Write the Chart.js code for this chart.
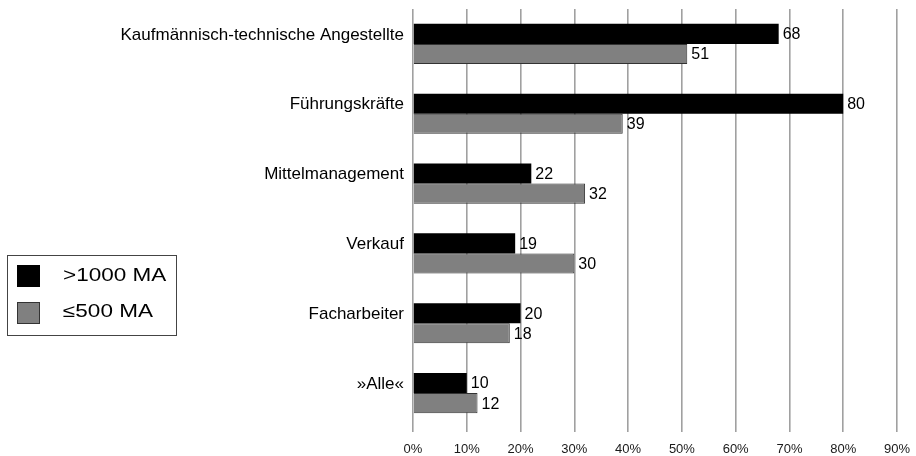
<!DOCTYPE html>
<html>
<head>
<meta charset="utf-8">
<script src="https://cdn.jsdelivr.net/npm/chart.js@4.4.1/dist/chart.umd.min.js"></script>
<style>
html,body{margin:0;padding:0;background:#fff;}
#wrap{position:relative;width:916px;height:456px;}
</style>
</head>
<body>
<div id="wrap"><canvas id="c" width="916" height="456"></canvas></div>
<script>
const categories = ["Kaufmännisch-technische Angestellte", "Führungskräfte", "Mittelmanagement", "Verkauf", "Facharbeiter", "»Alle«"];
const seriesNames = [">1000 MA", "≤500 MA"];
const large = [68, 80, 22, 19, 20, 10];
const small = [51, 39, 32, 30, 18, 12];
const xTicks = [0, 10, 20, 30, 40, 50, 60, 70, 80, 90];

const FONT = "'Liberation Sans', Arial, Helvetica, sans-serif";

const valueLabels = {
  id: 'valueLabels',
  afterDatasetsDraw(chart) {
    const ctx = chart.ctx;
    ctx.save();
    ctx.fillStyle = '#000';
    ctx.font = '16px ' + FONT;
    ctx.textAlign = 'left';
    ctx.textBaseline = 'middle';
    chart.data.datasets.forEach((ds, i) => {
      const meta = chart.getDatasetMeta(i);
      meta.data.forEach((bar, j) => {
        ctx.fillText(String(ds.data[j]), bar.x + 4, bar.y + 1);
      });
    });
    ctx.restore();
  }
};

const boxLegend = {
  id: 'boxLegend',
  afterDraw(chart) {
    const ctx = chart.ctx;
    ctx.save();
    ctx.strokeStyle = '#444';
    ctx.lineWidth = 1;
    ctx.strokeRect(7.5, 255.5, 169, 80);
    const items = [
      {fill: '#000', stroke: '#000', y: 265, ty: 276},
      {fill: '#808080', stroke: '#333', y: 302, ty: 312}
    ];
    items.forEach((it, i) => {
      ctx.fillStyle = it.fill;
      ctx.fillRect(17, it.y, 23, 22);
      ctx.strokeStyle = it.stroke;
      ctx.strokeRect(17.5, it.y + 0.5, 22, 21);
      ctx.save();
      ctx.translate(63, it.ty);
      ctx.scale(1.25, 1);
      ctx.fillStyle = '#000';
      ctx.font = '18px ' + FONT;
      ctx.textBaseline = 'middle';
      ctx.textAlign = 'left';
      ctx.fillText(seriesNames[i], 0, 0);
      ctx.restore();
    });
    ctx.restore();
  }
};

new Chart(document.getElementById('c'), {
  type: 'bar',
  data: {
    labels: categories,
    datasets: [
      {label: seriesNames[0], data: large, backgroundColor: '#000', borderColor: '#000', borderWidth: 0,
       categoryPercentage: 0.575, barPercentage: 1.0},
      {label: seriesNames[1], data: small, backgroundColor: '#808080', borderColor: '#333', borderWidth: 1,
       categoryPercentage: 0.575, barPercentage: 1.0}
    ]
  },
  options: {
    indexAxis: 'y',
    responsive: false,
    animation: false,
    layout: {padding: {top: 9, right: 19, bottom: 0, left: 0}},
    plugins: {legend: {display: false}, tooltip: {enabled: false}},
    scales: {
      x: {
        type: 'linear',
        min: 0, max: 90,
        afterBuildTicks(s) { s.ticks = xTicks.map(v => ({value: v})); },
        ticks: {
          callback: v => v + '%',
          font: {size: 13, family: FONT},
          color: '#1a1a1a',
          padding: 10,
          maxRotation: 0
        },
        grid: {color: '#a0a0a0', lineWidth: 1.6, tickLength: 4, drawTicks: true},
        border: {display: false},
        afterFit(s) { s.height = 28; s.paddingLeft = 0; s.paddingRight = 0; }
      },
      y: {
        type: 'category',
        grid: {display: false, drawTicks: false},
        border: {display: false},
        ticks: {
          font: {size: 17, family: FONT},
          color: '#000',
          padding: 9,
          labelOffset: -9
        },
        afterFit(s) { s.width = 413; s.paddingTop = 0; s.paddingBottom = 0; }
      }
    }
  },
  plugins: [valueLabels, boxLegend]
});
</script>
</body>
</html>
